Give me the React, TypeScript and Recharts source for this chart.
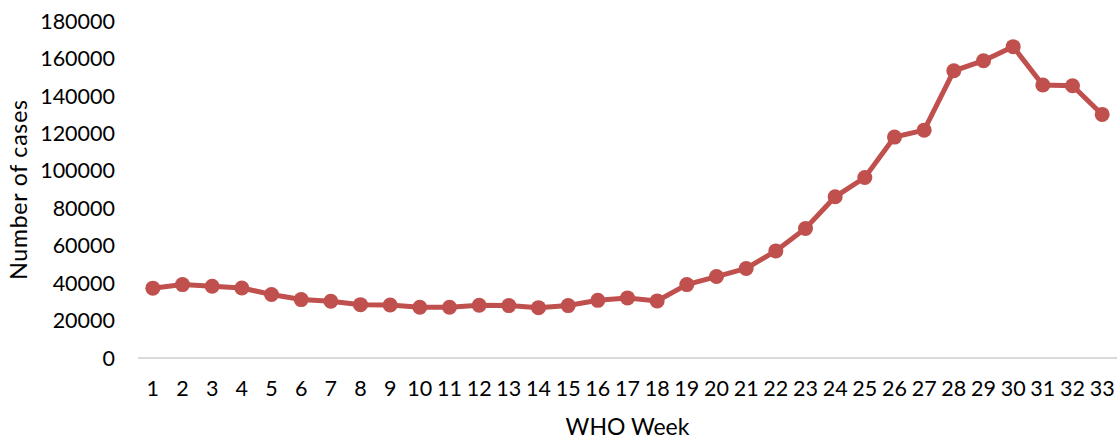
import React from "react";
import { LineChart, Line, XAxis, YAxis, Label } from "recharts";

// WHO reporting weeks on the x axis
const weeks: string[] = Array.from({ length: 33 }, (_, i) => String(i + 1));

// Weekly case counts
const cases: number[] = [
  37300, 39200, 38300, 37400, 33900, 31200, 30300, 28500, 28300, 27100,
  27100, 28200, 28000, 26900, 28000, 30800, 32100, 30500, 39200, 43500,
  47800, 57200, 69200, 86100, 96400, 118000, 121700, 153400, 158800, 166300,
  145800, 145400, 130100,
];

const yTicks: number[] = [0, 20000, 40000, 60000, 80000, 100000, 120000, 140000, 160000, 180000];

const data = weeks.map((week, i) => ({ week, cases: cases[i] }));

const FONT = "Lato, 'Open Sans', sans-serif";
const RED = "#C0504D";

export default function App() {
  return (
    <div style={{ position: "absolute", left: 0, top: 0, width: 1120, height: 440, background: "#fff" }}>
      <LineChart
        width={1120}
        height={440}
        data={data}
        margin={{ top: 21, right: 3, bottom: 0, left: 0 }}
      >
        <XAxis
          dataKey="week"
          height={82}
          padding={{ left: 14.83, right: 14.83 }}
          axisLine={{ stroke: "#D9D9D9", strokeWidth: 2 }}
          tickLine={false}
          tickSize={0}
          tickMargin={23}
          interval={0}
          tick={{ fontSize: 21.5, fill: "#000", fontFamily: FONT }}
        >
          <Label
            value="WHO Week"
            position="insideBottom"
            offset={5}
            style={{ fontSize: 23, fill: "#000", fontFamily: FONT }}
          />
        </XAxis>
        <YAxis
          width={138}
          domain={[0, 180000]}
          ticks={yTicks}
          interval={0}
          axisLine={false}
          tickLine={false}
          tickSize={0}
          tickMargin={23}
          tick={{ fontSize: 21.5, fill: "#000", fontFamily: FONT }}
        >
          <Label
            value="Number of cases"
            angle={-90}
            position="insideLeft"
            offset={19}
            style={{ fontSize: 23, fill: "#000", fontFamily: FONT, textAnchor: "middle", letterSpacing: 0.8 }}
          />
        </YAxis>
        <Line
          type="linear"
          dataKey="cases"
          stroke={RED}
          strokeWidth={5}
          dot={{ r: 7.5, fill: RED, stroke: RED, strokeWidth: 0 }}
          activeDot={false}
          isAnimationActive={false}
        />
      </LineChart>
    </div>
  );
}
